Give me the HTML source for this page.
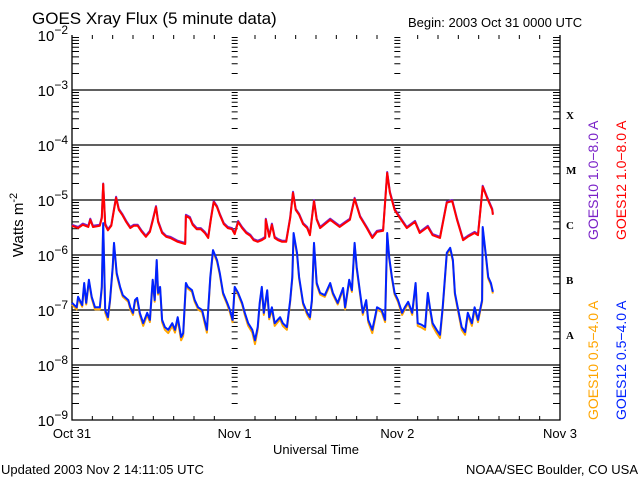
<!DOCTYPE html>
<html><head><meta charset="utf-8"><style>
body{margin:0;background:#fff;}
svg{display:block;font-family:"Liberation Sans",sans-serif;}
</style></head><body>
<svg id="chart" width="640" height="480" viewBox="0 0 640 480" xmlns="http://www.w3.org/2000/svg">
<rect width="640" height="480" fill="#fff"/>
<text x="32" y="24" font-size="17">GOES Xray Flux (5 minute data)</text>
<text x="408" y="27" font-size="13">Begin:  2003 Oct 31 0000 UTC</text>
<g id="axes"></g>
<g id="series"></g>
<text transform="translate(23,225) rotate(-90)" text-anchor="middle" font-size="15">Watts m<tspan dy="-6" font-size="11">-2</tspan></text>
<text x="316" y="454" text-anchor="middle" font-size="13">Universal Time</text>
<text x="1" y="474" font-size="13">Updated 2003 Nov  2 14:11:05 UTC</text>
<text x="638" y="474" text-anchor="end" font-size="13">NOAA/SEC Boulder, CO USA</text>
<g font-family="Liberation Serif,serif" font-weight="bold" font-size="11">
<text x="566" y="119">X</text>
<text x="566" y="174">M</text>
<text x="566" y="229">C</text>
<text x="566" y="284">B</text>
<text x="566" y="339">A</text>
</g>
<g font-size="14">
<text transform="translate(598,240) rotate(-90)" fill="#7a22c8">GOES10 1.0−8.0 A</text>
<text transform="translate(626,240) rotate(-90)" fill="#ff0000">GOES12 1.0−8.0 A</text>
<text transform="translate(598,420) rotate(-90)" fill="#ffa500">GOES10 0.5−4.0 A</text>
<text transform="translate(626,420) rotate(-90)" fill="#0022ff">GOES12 0.5−4.0 A</text>
</g>
</svg>
<script>
const longHours=[0.0,0.9,1.6,2.4,2.7,3.1,4.1,4.4,4.6,4.9,5.3,5.8,6.2,6.5,6.9,7.4,8.0,8.6,9.1,9.7,10.3,10.9,11.5,11.9,12.4,12.7,13.3,13.9,14.5,15.6,16.7,16.8,17.4,17.8,18.4,19.0,19.6,20.1,20.5,20.9,21.4,21.8,22.4,23.0,23.6,24.0,24.5,25.1,25.7,26.3,26.8,27.4,28.0,28.5,28.6,29.1,29.5,29.9,30.4,31.0,31.6,32.2,32.6,33.0,33.5,34.1,34.7,35.1,35.7,36.1,36.6,38.1,39.5,40.3,41.0,41.7,42.5,43.5,44.3,45.0,45.9,46.5,46.9,47.6,48.4,49.4,50.6,51.3,52.5,53.2,54.3,55.3,56.1,56.8,57.7,58.4,59.4,59.9,60.6,61.2,62.0,62.1];
const goes12LongLog=[-5.47,-5.51,-5.45,-5.49,-5.36,-5.49,-5.47,-5.33,-4.71,-5.45,-5.55,-5.47,-5.18,-4.96,-5.18,-5.27,-5.40,-5.51,-5.47,-5.47,-5.58,-5.67,-5.58,-5.38,-5.13,-5.40,-5.60,-5.67,-5.69,-5.76,-5.80,-5.29,-5.33,-5.45,-5.53,-5.53,-5.60,-5.69,-5.35,-5.04,-5.13,-5.27,-5.44,-5.51,-5.53,-5.62,-5.40,-5.51,-5.60,-5.65,-5.73,-5.76,-5.73,-5.69,-5.36,-5.67,-5.45,-5.69,-5.73,-5.76,-5.76,-5.33,-4.87,-5.18,-5.27,-5.44,-5.51,-5.64,-5.02,-5.36,-5.51,-5.36,-5.49,-5.42,-5.36,-4.98,-5.31,-5.51,-5.69,-5.58,-5.56,-4.51,-4.87,-5.18,-5.33,-5.51,-5.40,-5.60,-5.49,-5.64,-5.69,-5.05,-5.02,-5.36,-5.73,-5.67,-5.60,-5.64,-4.76,-4.95,-5.18,-5.27];
const goes10LongLog=[-5.45,-5.49,-5.43,-5.47,-5.34,-5.47,-5.45,-5.31,-4.70,-5.43,-5.53,-5.45,-5.16,-4.94,-5.16,-5.25,-5.38,-5.49,-5.45,-5.45,-5.56,-5.65,-5.56,-5.36,-5.11,-5.38,-5.58,-5.65,-5.67,-5.74,-5.78,-5.27,-5.31,-5.43,-5.51,-5.51,-5.58,-5.67,-5.33,-5.02,-5.11,-5.25,-5.42,-5.49,-5.51,-5.60,-5.38,-5.49,-5.58,-5.63,-5.71,-5.74,-5.71,-5.67,-5.34,-5.65,-5.43,-5.67,-5.71,-5.74,-5.74,-5.31,-4.85,-5.16,-5.25,-5.42,-5.49,-5.62,-5.00,-5.34,-5.49,-5.34,-5.47,-5.40,-5.34,-4.96,-5.29,-5.49,-5.67,-5.56,-5.54,-4.49,-4.85,-5.16,-5.31,-5.49,-5.38,-5.58,-5.47,-5.62,-5.67,-5.03,-5.00,-5.34,-5.71,-5.65,-5.58,-5.62,-4.74,-4.93,-5.16,-5.25];
const shortHours=[0.0,0.7,0.9,1.5,1.8,2.1,2.5,2.9,3.4,4.1,4.4,4.6,4.9,5.3,5.6,6.0,6.2,6.6,7.1,7.5,8.3,8.6,9.0,9.3,9.6,10.0,10.5,11.1,11.5,11.9,12.2,12.5,12.7,13.0,13.3,13.7,14.2,14.8,15.2,15.6,16.1,16.4,16.8,17.1,17.7,18.1,18.6,19.2,19.9,20.4,20.8,21.4,21.8,22.3,22.9,23.3,23.7,24.0,24.5,25.1,25.5,26.0,26.6,27.0,27.4,27.7,28.0,28.3,28.8,29.1,29.5,29.9,30.7,31.1,31.7,32.2,32.5,32.7,33.2,33.5,34.1,34.7,35.1,35.4,35.7,36.1,36.6,37.3,38.1,38.5,39.2,40.0,40.3,40.9,41.3,41.7,42.0,42.5,42.9,43.4,43.7,44.3,44.7,45.0,45.7,46.2,46.5,46.8,47.2,47.6,48.1,48.7,49.1,49.6,50.2,50.7,51.0,51.6,52.1,52.5,52.8,53.2,53.8,54.3,54.7,55.3,55.8,56.2,56.5,56.9,57.5,58.0,58.4,59.0,59.4,59.9,60.5,60.6,61.1,61.4,61.8,62.1];
const goes12ShortLog=[-6.87,-6.95,-6.76,-6.91,-6.51,-6.87,-6.45,-6.76,-6.95,-6.95,-6.58,-5.42,-7.00,-7.13,-6.82,-6.22,-5.78,-6.33,-6.58,-6.73,-6.82,-6.95,-7.05,-6.82,-6.78,-7.05,-7.24,-7.05,-7.18,-6.45,-6.82,-6.09,-6.69,-6.58,-7.18,-7.31,-7.36,-7.24,-7.36,-7.13,-7.49,-7.42,-6.51,-6.58,-6.64,-6.82,-6.95,-7.00,-7.36,-6.40,-5.91,-6.09,-6.33,-6.69,-6.87,-7.00,-7.18,-6.58,-6.69,-6.87,-7.05,-7.24,-7.36,-7.55,-7.31,-6.87,-6.58,-7.05,-6.64,-7.13,-6.95,-7.24,-7.13,-7.24,-7.31,-6.82,-6.40,-5.60,-5.96,-6.40,-6.87,-7.05,-7.13,-6.82,-5.78,-6.51,-6.69,-6.73,-6.51,-6.69,-6.87,-6.60,-6.95,-6.45,-6.64,-5.78,-6.22,-6.69,-7.05,-6.82,-7.18,-7.36,-7.13,-6.95,-7.00,-7.18,-5.60,-6.04,-6.40,-6.69,-6.82,-7.05,-6.95,-6.85,-7.05,-6.51,-7.24,-7.27,-7.31,-6.69,-6.95,-7.24,-7.36,-7.45,-6.95,-5.96,-5.87,-6.09,-6.69,-6.95,-7.31,-7.40,-7.05,-7.24,-6.95,-7.18,-6.82,-5.49,-6.04,-6.40,-6.51,-6.67];
const goes10ShortLog=[-6.90,-6.99,-6.79,-6.94,-6.54,-6.90,-6.48,-6.79,-6.99,-6.99,-6.61,-5.45,-7.05,-7.18,-6.85,-6.25,-5.81,-6.36,-6.61,-6.76,-6.85,-6.99,-7.09,-6.85,-6.81,-7.09,-7.29,-7.09,-7.22,-6.48,-6.85,-6.12,-6.72,-6.61,-7.22,-7.36,-7.42,-7.29,-7.41,-7.17,-7.55,-7.47,-6.54,-6.61,-6.67,-6.85,-6.99,-7.04,-7.41,-6.43,-5.94,-6.12,-6.36,-6.72,-6.90,-7.04,-7.22,-6.61,-6.72,-6.90,-7.09,-7.29,-7.41,-7.62,-7.36,-6.90,-6.61,-7.09,-6.67,-7.17,-6.99,-7.29,-7.17,-7.29,-7.36,-6.85,-6.43,-5.63,-5.99,-6.43,-6.90,-7.09,-7.17,-6.85,-5.81,-6.54,-6.72,-6.76,-6.54,-6.72,-6.90,-6.63,-6.99,-6.48,-6.67,-5.81,-6.25,-6.72,-7.09,-6.85,-7.22,-7.42,-7.17,-6.99,-7.04,-7.22,-5.63,-6.07,-6.43,-6.72,-6.85,-7.09,-6.99,-6.88,-7.09,-6.54,-7.29,-7.32,-7.36,-6.72,-6.99,-7.29,-7.42,-7.51,-6.99,-5.99,-5.90,-6.12,-6.72,-6.99,-7.36,-7.45,-7.09,-7.29,-6.99,-7.22,-6.85,-5.52,-6.07,-6.43,-6.54,-6.70];
const decadeExponents=[-2,-3,-4,-5,-6,-7,-8,-9];
const dayLabels=["Oct 31","Nov 1","Nov 2","Nov 3"];

const X0=72,X1=560,Y0=35,Y1=420,LOGMAX=-2,LOGMIN=-9,HOURS=72;
const xs=h=>X0+(h/HOURS)*(X1-X0);
const ys=l=>Y0+(LOGMAX-l)/(LOGMAX-LOGMIN)*(Y1-Y0);
const NS="http://www.w3.org/2000/svg";
function mk(tag,attrs,parent){const e=document.createElementNS(NS,tag);for(const k in attrs)e.setAttribute(k,attrs[k]);parent.appendChild(e);return e;}
const axes=document.getElementById('axes'),series=document.getElementById('series');
// frame
const frame=mk('path',{d:`M${X0},${Y0}V${Y1}H${X1}V${Y0}`,stroke:'#000',fill:'none','stroke-width':1.3},axes);


let tickD='';
decadeExponents.forEach((e,i)=>{
  const y=ys(e);
  if(i>0&&i<decadeExponents.length-1){
    const gl=mk('line',{x1:X0,x2:X1,y1:y,y2:y,stroke:'#000','stroke-width':1.3},axes);
    
    
  }
  const t=mk('text',{x:68,y:y+6,'text-anchor':'end','font-size':15},axes);
  
  
  t.innerHTML=`10<tspan dy="-7" font-size="12">−${-e}</tspan>`;
  if(i<decadeExponents.length-1){
    for(let m=2;m<=9;m++){
      const yy=ys(e-1+Math.log10(m));
      tickD+=`M${X0},${yy}h7M${X1},${yy}h-7`;
      const dx=[xs(24),xs(48)];
      dx.forEach(x=>{tickD+=`M${x-3},${yy}h6`;});
    }
  }
});
for(let h=3;h<HOURS;h+=3){
  const x=xs(h);
  if(h%24===0) continue;
  tickD+=`M${x},${Y1}v-4M${x},${Y0}v4`;
}
const tk=mk('path',{d:tickD,stroke:'#000','stroke-width':1,fill:'none'},axes);


dayLabels.forEach((d,i)=>{
  const t=mk('text',{x:xs(i*24),y:438,'text-anchor':'middle','font-size':13},axes);
  
  
  t.textContent=d;
});
function line(hours,vals,color,name){
  const d=hours.map((h,i)=>(i?'L':'M')+xs(h).toFixed(1)+','+ys(vals[i]).toFixed(1)).join('');
  const p=mk('path',{d:d,stroke:color,'stroke-width':2,fill:'none','stroke-linejoin':'round'},series);
  
  
}
line(longHours,goes10LongLog,'#7a22c8','goes10-long-line');
line(longHours,goes12LongLog,'#ff0000','goes12-long-line');
line(shortHours,goes10ShortLog,'#ffa500','goes10-short-line');
line(shortHours,goes12ShortLog,'#0022ff','goes12-short-line');
</script>
</body></html>
